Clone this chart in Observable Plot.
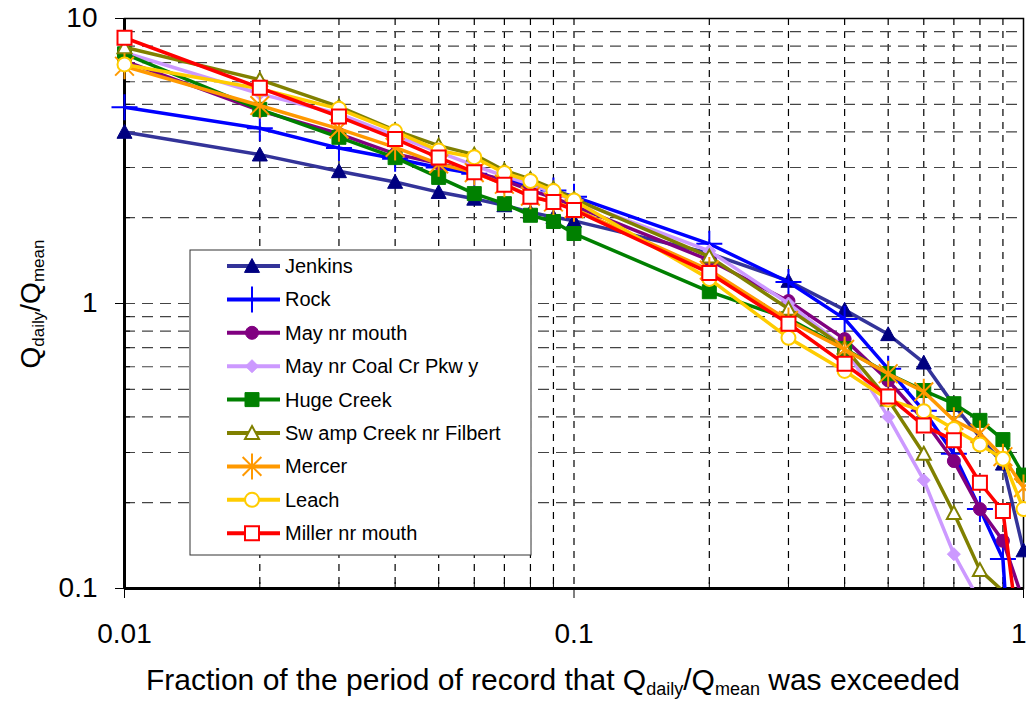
<!DOCTYPE html>
<html>
<head>
<meta charset="utf-8">
<script src="https://cdn.jsdelivr.net/npm/d3@7"></script>
<script src="https://cdn.jsdelivr.net/npm/@observablehq/plot@0.6"></script>
<style>
  body { margin: 0; background: #fff; }
  svg { display: block; }
</style>
</head>
<body>
<div id="chart"></div>
<script>
// ---------- data ----------
const fractions = [0.01, 0.02, 0.03, 0.04, 0.05, 0.06, 0.07, 0.08, 0.09, 0.1, 0.2, 0.3, 0.4, 0.5, 0.6, 0.7, 0.8, 0.9, 1.0];

const jenkins  = [4.0, 3.33, 2.91, 2.67, 2.46, 2.33, 2.21, 2.09, 2.01, 1.95, 1.5, 1.2, 0.95, 0.78, 0.62, 0.44, 0.34, 0.274, 0.136];
const rock     = [4.88, 4.12, 3.51, 3.22, 3.0, 2.85, 2.72, 2.6, 2.49, 2.37, 1.62, 1.19, 0.883, 0.59, 0.42, 0.297, 0.19, 0.127, 0.01];
const mayMouth = [7.1, 4.75, 3.94, 3.35, 3.1, 2.9, 2.7, 2.5, 2.35, 2.2, 1.42, 1.02, 0.75, 0.537, 0.39, 0.28, 0.19, 0.147, 0.09];
const mayCoal  = [7.6, 5.44, 4.63, 3.88, 3.4, 3.05, 2.8, 2.62, 2.45, 2.3, 1.53, 1.0, 0.70, 0.40, 0.24, 0.132, 0.09, 0.05, 0.03];
const hugeCreek = [7.52, 4.8, 3.83, 3.25, 2.77, 2.43, 2.24, 2.04, 1.94, 1.76, 1.1, 0.885, 0.694, 0.567, 0.495, 0.445, 0.389, 0.333, 0.25];
const swampCreek = [7.93, 6.1, 4.91, 4.05, 3.58, 3.33, 2.93, 2.73, 2.53, 2.33, 1.46, 0.958, 0.70, 0.46, 0.297, 0.184, 0.116, 0.098, 0.06];
const mercer   = [6.8, 4.95, 4.1, 3.53, 3.09, 2.88, 2.62, 2.38, 2.27, 2.15, 1.31, 0.872, 0.69, 0.567, 0.49, 0.389, 0.35, 0.29, 0.226];
const leach    = [6.9, 5.67, 4.82, 4.02, 3.44, 3.26, 2.87, 2.69, 2.48, 2.30, 1.22, 0.758, 0.58, 0.46, 0.419, 0.363, 0.32, 0.285, 0.19];
const miller   = [8.56, 5.71, 4.53, 3.78, 3.25, 2.89, 2.61, 2.37, 2.27, 2.13, 1.28, 0.849, 0.614, 0.472, 0.373, 0.331, 0.235, 0.187, 0.05];

const seriesNames = ["Jenkins", "Rock", "May nr mouth", "May nr Coal Cr Pkw y", "Huge Creek",
                     "Sw amp Creek nr Filbert", "Mercer", "Leach", "Miller nr mouth"];
const seriesValues = [jenkins, rock, mayMouth, mayCoal, hugeCreek, swampCreek, mercer, leach, miller];

const xTickValues = [0.01, 0.1, 1];
const xTickLabels = ["0.01", "0.1", "1"];
const yTickValues = [0.1, 1, 10];
const yTickLabels = ["0.1", "1", "10"];
const xMinor = [0.02, 0.03, 0.04, 0.05, 0.06, 0.07, 0.08, 0.09, 0.2, 0.3, 0.4, 0.5, 0.6, 0.7, 0.8, 0.9];
const yMinor = [0.2, 0.3, 0.4, 0.5, 0.6, 0.7, 0.8, 0.9, 2, 3, 4, 5, 6, 7, 8, 9];
const xGrid = [0.02, 0.03, 0.04, 0.05, 0.06, 0.07, 0.08, 0.09, 0.1, 0.2, 0.3, 0.4, 0.5, 0.6, 0.7, 0.8, 0.9];
const yGrid = [0.2, 0.3, 0.4, 0.5, 0.6, 0.7, 0.8, 0.9, 1, 2, 3, 4, 5, 6, 7, 8, 9];

// ---------- styles ----------
function makeSymbol(kind) {
  return {
    draw(ctx, size) {
      const r = Math.sqrt(size / Math.PI);
      if (kind === "triangle") {
        ctx.moveTo(0, -r); ctx.lineTo(r, r * 0.85); ctx.lineTo(-r, r * 0.85); ctx.closePath();
      } else if (kind === "square") {
        ctx.moveTo(-r, -r); ctx.lineTo(r, -r); ctx.lineTo(r, r); ctx.lineTo(-r, r); ctx.closePath();
      } else if (kind === "circle") {
        ctx.moveTo(r, 0); ctx.arc(0, 0, r, 0, 2 * Math.PI);
      } else if (kind === "diamond") {
        ctx.moveTo(0, -r); ctx.lineTo(r, 0); ctx.lineTo(0, r); ctx.lineTo(-r, 0); ctx.closePath();
      } else if (kind === "plus") {
        ctx.moveTo(-r, 0); ctx.lineTo(r, 0); ctx.moveTo(0, -r); ctx.lineTo(0, r);
      } else if (kind === "asterisk") {
        const d = r * 0.72;
        ctx.moveTo(0, -r); ctx.lineTo(0, r);
        ctx.moveTo(-d, -d); ctx.lineTo(d, d);
        ctx.moveTo(-d, d); ctx.lineTo(d, -d);
      }
    }
  };
}

const styles = [
  {line: "#333399", sym: "triangle", r: 7.5, fill: "#000080", stroke: "#000080", sw: 1},
  {line: "#0000FF", sym: "plus", r: 13, fill: "none", stroke: "#0000FF", sw: 2},
  {line: "#800080", sym: "circle", r: 6.5, fill: "#800080", stroke: "#800080", sw: 1},
  {line: "#CC99FF", sym: "diamond", r: 6.5, fill: "#CC99FF", stroke: "#CC99FF", sw: 1},
  {line: "#008000", sym: "square", r: 7, fill: "#008000", stroke: "#008000", sw: 1},
  {line: "#808000", sym: "triangle", r: 7, fill: "#fff", stroke: "#808000", sw: 2},
  {line: "#FF9900", sym: "asterisk", r: 13, fill: "none", stroke: "#FF9900", sw: 2},
  {line: "#FFCC00", sym: "circle", r: 7, fill: "#fff", stroke: "#FFCC00", sw: 2},
  {line: "#FF0000", sym: "square", r: 7, fill: "#fff", stroke: "#FF0000", sw: 2}
];

// ---------- marks ----------
const marks = [
  Plot.ruleX(xGrid, {stroke: "#000", strokeDasharray: "7,6", strokeWidth: 1.2}),
  Plot.ruleY(yGrid, {stroke: "#444", strokeDasharray: "11,7", strokeWidth: 1.2}),
  Plot.frame({stroke: "#000", strokeWidth: 1.5}),
  Plot.ruleX([0.01], {stroke: "#000", strokeWidth: 3}),
  Plot.ruleY([0.1], {stroke: "#000", strokeWidth: 3}),
  Plot.axisX(xTickValues, {tickSize: 10, tickPadding: 25, label: null,
    tickFormat: d => xTickLabels[xTickValues.indexOf(d)]}),
  Plot.axisX(xMinor, {tickSize: -6, label: null, tickFormat: () => ""}),
  Plot.axisY(yTickValues, {tickSize: 9, tickPadding: 18, label: null,
    tickFormat: d => yTickLabels[yTickValues.indexOf(d)]}),
  Plot.axisY(yMinor, {tickSize: -6, label: null, tickFormat: () => ""})
];

seriesNames.forEach((name, i) => {
  const rows = fractions.map((f, j) => ({series: name, x: f, y: seriesValues[i][j]}));
  const st = styles[i];
  marks.push(Plot.line(rows, {x: "x", y: "y", stroke: st.line, strokeWidth: 3.5, clip: true}));
  marks.push(Plot.dot(rows.filter(d => d.y >= 0.1), {
    x: "x", y: "y", r: st.r, symbol: makeSymbol(st.sym),
    fill: st.fill, stroke: st.stroke, strokeWidth: st.sw
  }));
});

const chart = Plot.plot({
  width: 1026,
  height: 704,
  marginLeft: 124,
  marginTop: 18,
  marginRight: 3,
  marginBottom: 116,
  x: {type: "log", domain: [0.01, 1], label: null},
  y: {type: "log", domain: [0.1, 10], label: null},
  style: {fontFamily: "'Liberation Sans', Arial, sans-serif", fontSize: "27px", color: "#000", background: "#fff"},
  marks
});
document.getElementById("chart").appendChild(chart);

const svg = d3.select(chart);

// enlarge tick labels
svg.selectAll('[aria-label="x-axis tick label"] text, [aria-label="y-axis tick label"] text')
  .style("font-size", "28px").attr("fill", "#000");
// keep the "1" label inside the picture, flush with the right edge
svg.selectAll('[aria-label="x-axis tick label"] text')
  .filter(function() { return this.textContent === "1"; })
  .attr("text-anchor", "end").attr("dx", 3);

// ---------- titles with subscripts ----------
const yt = svg.append("text")
  .attr("transform", "translate(40,304) rotate(-90)")
  .attr("text-anchor", "middle")
  .style("font-size", "28px").attr("fill", "#000");
yt.append("tspan").text("Q");
yt.append("tspan").style("font-size", "17px").attr("dy", 4).text("daily");
yt.append("tspan").attr("dy", -4).text("/Q");
yt.append("tspan").style("font-size", "17px").attr("dy", 4).text("mean");

const xt = svg.append("text")
  .attr("x", 553).attr("y", 690)
  .attr("text-anchor", "middle")
  .style("font-size", "30px").attr("fill", "#000");
xt.append("tspan").text("Fraction of the period of record that Q");
xt.append("tspan").style("font-size", "18px").attr("dy", 5).text("daily");
xt.append("tspan").attr("dy", -5).text("/Q");
xt.append("tspan").style("font-size", "18px").attr("dy", 5).text("mean");
xt.append("tspan").attr("dy", -5).text(" was exceeded");

// ---------- legend ----------
const lg = svg.append("g");
lg.append("rect").attr("x", 190).attr("y", 250).attr("width", 341).attr("height", 305)
  .attr("fill", "#fff").attr("stroke", "#333").attr("stroke-width", 1);
seriesNames.forEach((name, i) => {
  const st = styles[i];
  const cy = 266 + i * 33.4;
  lg.append("line").attr("x1", 227).attr("x2", 280).attr("y1", cy).attr("y2", cy)
    .attr("stroke", st.line).attr("stroke-width", 4);
  lg.append("path")
    .attr("d", d3.symbol(makeSymbol(st.sym), Math.PI * st.r * st.r)())
    .attr("transform", `translate(252,${cy})`)
    .attr("fill", st.fill).attr("stroke", st.stroke).attr("stroke-width", st.sw);
  lg.append("text").attr("x", 285).attr("y", cy + 7)
    .attr("text-anchor", "start")
    .style("font-size", "20px").attr("fill", "#000").text(name);
});
</script>
</body>
</html>
